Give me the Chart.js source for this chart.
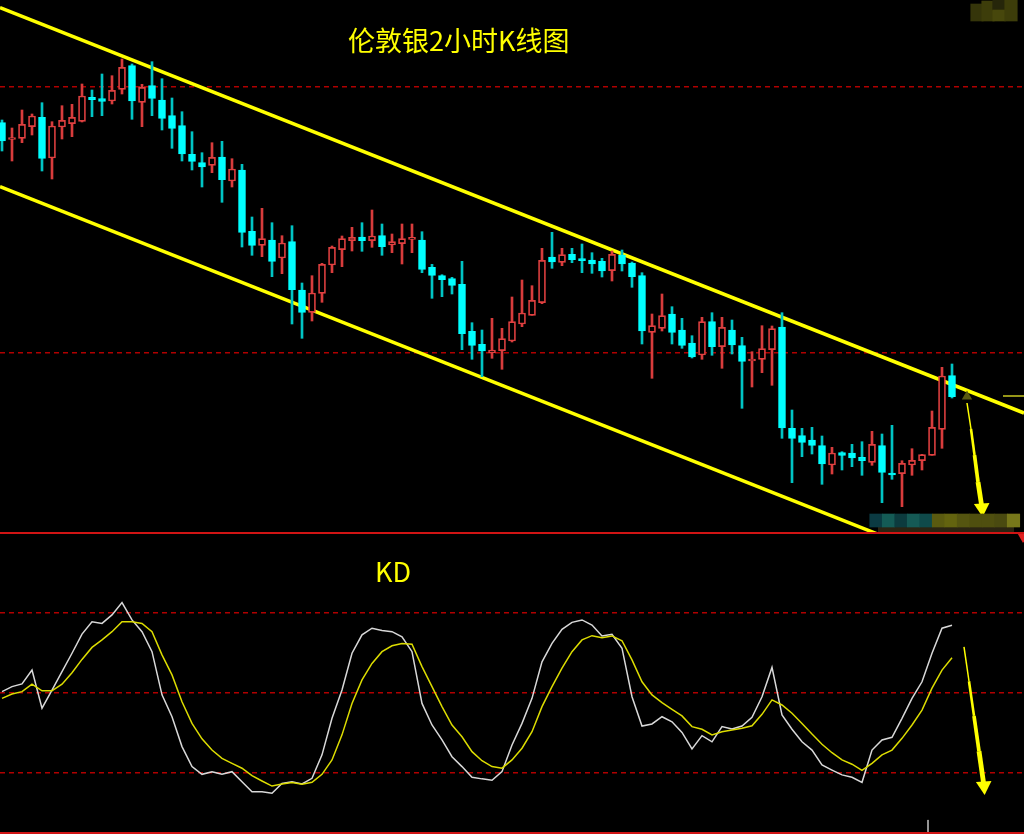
<!DOCTYPE html>
<html>
<head>
<meta charset="utf-8">
<style>
html, body { margin: 0; background: #000; overflow: hidden; }
canvas { position: absolute; left: 0; }
#priceChart { top: 0; }
#kdChart { top: 534px; }
.label { position: absolute; color: #ff0; font-family: "Noto Sans CJK SC", sans-serif; white-space: nowrap; }
#title { left: 348px; top: 21px; font-size: 27px; line-height: 38px; }
#kdLabel { left: 375px; top: 553px; font-size: 27px; line-height: 36px; }
.rule { position: absolute; left: 0; width: 1024px; background: #d01414; }
</style>
</head>
<body>
<canvas id="priceChart" width="1024" height="534"></canvas>
<canvas id="kdChart" width="1024" height="300"></canvas>
<div class="rule" style="top:532px;height:2px"></div>
<div class="rule" style="top:832px;height:2px"></div>
<div class="label" id="title">伦敦银2小时K线图</div>
<div class="label" id="kdLabel">KD</div>
<script src="https://cdn.jsdelivr.net/npm/chart.js@4"></script>
<script>
// candles, oldest first
const opens = [411.3,394.5,395.7,407.3,416.7,376,407,410.3,412.7,436.7,435.3,433,444.7,468.3,431.7,448.3,434,418.3,408.3,379.7,371.3,368.7,377,353,364,302.7,288.7,294,276,292.3,244,221.7,240.7,269,284.3,293.3,297,293.3,298.3,289,290.3,294.7,294,266.7,258.3,255.3,249.7,202.7,189.7,181.3,183.3,193,210,218.7,231.3,277,271.7,279.7,275.3,274,272.7,263.3,279,271,258.3,201.7,205.7,220,204,191,179,212.3,187.3,204,188.3,173,174.7,184.3,207,105.7,98.3,94,88.3,69,81.3,81,76.7,71.7,88.3,61,60.3,69,73.3,78.7,104.7,158.3]
const closes = [393,396.5,409.7,418,375.7,408,413.7,416.7,438,434.3,432.7,443.7,466.7,433,446.7,435.7,415.7,405.7,380,372.7,367,376.7,354.3,365,301.7,288.7,295.3,272.7,291,244.3,221.7,241,269.7,286.7,295.3,296.7,293.3,298,287.3,292.3,295.3,296.7,264.7,258.7,254.3,248.7,200.3,188.7,183,184,195.3,212.3,221,233.7,273.7,272,279.3,274.3,273.3,270,263,279.7,270,257.3,203,208.3,218.3,201.7,188.7,177,212.3,187.3,206.7,189,172.7,175,185.3,205.3,106,95.7,91.7,88.7,70,81,78.7,76,73.3,89.7,61.7,59,70.7,73.7,79.3,106.7,158,137.3]
const highs = [414,406,424,420,431.3,412.3,428.3,429.7,450,444,460,458.3,475,470,449.7,472.3,455.3,436,422.3,402.3,381.3,391.3,392.7,375.3,369.7,317,325.7,311.3,298.3,308.3,251,258.3,270.7,288,298,306.7,311.3,324,310,300,310,310,302.3,269.7,259.3,256.7,272.7,211.3,204,215.7,205.7,237,254,248.3,285.7,301.7,285.7,285.7,290,281.3,275.7,283,284,272,261.3,220,240,227.3,215.7,198.3,216.7,221.3,216.7,214,196.7,182.3,208.3,208,221.3,124,105.7,106.7,98,86.7,82.3,89.7,92.3,102.7,100,108.7,73.3,85.3,79.7,123,166.7,170]
const lows = [383,373,391.3,399,363,355,395,397.3,412,417.3,418.3,430,440,414.7,407.3,418.3,404,385.7,373,364,347,361.3,331.7,347,287,278.7,277.3,257.3,260.3,210,195.7,213,231.7,261.3,267.3,283,282.7,286.7,278.7,281.3,270,281.3,261.3,235.7,237.3,240,184.3,174.7,157.3,175.7,164.7,192,207.3,218.7,230.3,265.7,268.3,271.3,261.3,260.7,257,253,263,246.7,190,155.7,203,190,185.7,176,174.7,178.7,165.7,180,125.7,147,161.3,148.7,95.7,51.3,77.3,80,49.7,60,64,67.3,58.7,68.7,31.3,54.7,27.3,58.7,64,78.7,85.7,136]

// KD indicator
const kValues = [50.5,52.4,53.4,58.6,44.3,51.1,58,64.9,72.1,76.7,76.1,79.3,83.9,77.4,73,65.5,49.3,41.1,29.9,22.4,19.5,20.5,19.5,20.5,16.7,13,13,12.4,16.1,16.7,15.9,18,26.8,40.5,51.1,64.9,71.8,74.3,73.4,73,71.1,65.5,46.1,38,32.4,26.1,22.4,18.4,17.8,17.3,20.5,30.5,38.6,48,61.7,68.6,73.9,76.5,77.4,75.5,71.4,72,66.8,48.6,37.6,38.4,41.1,39.2,35.2,29,34,31.7,37.4,36.5,37.6,40.9,48.6,59.6,41.8,36.4,31.7,28.6,23,21.1,19.3,18.4,16.5,28.6,32.4,33.4,40.5,48,54.2,64.9,74.3,75.4]
const dValues = [48,49.6,50.5,53.3,50.8,50.8,53.3,57.6,62.6,67.1,69.9,73,76.7,76.7,76.1,73,64.3,56.8,46.7,38.6,32.8,28.6,25.5,23.6,21.8,19,17,15.1,15.9,16.4,15.8,16.5,19.5,24.9,34.3,46.1,54.9,61.1,65.5,67.7,68.6,68.3,59.9,52.4,44.9,38,33.6,28,24.6,22.4,21.8,24.9,29.3,35.5,44.9,52.4,59.3,65.5,69.9,71.5,70.7,71.4,69.6,62.4,54.2,49.3,46.4,43.9,41.4,37.4,36.4,34.3,35.5,36.1,36.8,37.7,42,47.4,45.5,42.4,38.6,34.6,30.8,27.6,24.9,23.3,21,23.6,26.8,28.6,33,38,43.6,51.8,58.6,63.2]

// channel drawn over the candles
const channelX = [-0.2, 102.2]
const channelUpper = [526.4, 121]
const channelLower = [347.3, -58]

const priceLevels = [447, 181]
const kdLevels = [80, 50, 20]

// hand drawn arrows
const priceArrowX = [96.5, 96.9, 97.25, 97.6, 98]
const priceArrowY = [131, 105, 79, 52, 26]
const kdArrowX = [96.2, 96.7, 97.2, 97.7, 98.2]
const kdArrowY = [67.3, 54.4, 41.4, 28.2, 15.1]

// blurred out bits of the screenshot
const smudgeX = [97.5,98.6,99.7,99.7,100.9,87.4,88.65,89.9,91.15,92.4,93.65,94.9,96.15,97.4,98.65,99.9,101.15]
const smudgeLow = [513,513,524,513,513,7,7,7,7,7,7,7,7,7,7,7,7]
const smudgeHigh = [530,533,534,524,534,20,20,20,20,20,20,20,20,20,20,20,20]
const smudgeColors = ['#35350a','#3d3d0a','#26260a','#47470c','#3d3d0a','#0b3a42','#145b55','#0c3b3e','#155a55','#0f4a4a','#5a5a10','#63630f','#555510','#4f4f0f','#4f4f0f','#4a4a10','#77771a']

const up = i => closes[i] >= opens[i]
const xs = opens.map((_, i) => i)
const points = (x, y) => x.map((v, i) => ({ x: v, y: y[i] }))

const baseOptions = (min, max, levels) => ({
    responsive: false,
    animation: false,
    events: [],
    layout: { padding: 0, autoPadding: false },
    plugins: { legend: { display: false }, tooltip: { enabled: false } },
    scales: {
        x: { type: 'linear', display: false, offset: false, min: -0.2, max: 102.2 },
        y: {
            min: min,
            max: max,
            beginAtZero: false,
            afterBuildTicks: axis => { axis.ticks = levels.map(v => ({ value: v })) },
            ticks: { display: false },
            grid: { color: '#b00000', lineWidth: 1.5, drawTicks: false },
            border: { display: false, dash: [5, 4] }
        }
    }
})

const thinLine = (label, data, color, width, order) => ({
    type: 'line', label, data, borderColor: color, borderWidth: width,
    pointRadius: 0, tension: 0, order
})

const arrow = (x, y) => ({
    type: 'line',
    label: 'arrow',
    data: points(x, y),
    borderColor: '#ffff00',
    backgroundColor: '#ffff00',
    borderWidth: 3,
    segment: { borderWidth: ctx => 1.5 + 1.1 * ctx.p0DataIndex },
    pointRadius: [0, 0, 0, 0, 9],
    pointStyle: 'triangle',
    pointRotation: 176,
    pointBorderWidth: 0,
    tension: 0,
    order: 0
})

new Chart(document.getElementById('priceChart'), {
    type: 'bar',
    data: {
        datasets: [
            thinLine('channel upper', points(channelX, channelUpper), '#ffff00', 3.5, 3),
            thinLine('channel lower', points(channelX, channelLower), '#ffff00', 3.5, 3),
            {
                label: 'wicks',
                data: xs.map(i => ({ x: i, y: [lows[i], highs[i]] })),
                backgroundColor: xs.map(i => up(i) ? '#d83c3c' : '#00c4c4'),
                barThickness: 2,
                grouped: false,
                order: 2
            },
            {
                label: 'bodies',
                data: xs.map(i => ({ x: i, y: [opens[i], closes[i]] })),
                backgroundColor: xs.map(i => up(i) ? '#000000' : '#00ffff'),
                borderColor: xs.map(i => up(i) ? '#e04040' : '#00ffff'),
                borderWidth: 1.7,
                borderSkipped: false,
                barThickness: 7,
                grouped: false,
                order: 1
            },
            {
                label: 'smudges',
                data: smudgeX.map((x, i) => ({ x, y: [smudgeLow[i], smudgeHigh[i]] })),
                backgroundColor: smudgeColors,
                barThickness: 12.5,
                grouped: false,
                order: 0
            },
            thinLine('smudge strip', points([87.6, 101.2], [4.5, 4.5]), '#2b2412', 5, 0),
            thinLine('level mark', points([100.1, 102.2], [138, 138]), '#c8c820', 1.5, 0),
            {
                type: 'line',
                label: 'arrow cap',
                data: points([96.5], [137.5]),
                pointStyle: 'triangle',
                pointRadius: 6,
                pointBorderWidth: 0,
                backgroundColor: '#5a5a10',
                order: 0
            },
            arrow(priceArrowX, priceArrowY)
        ]
    },
    options: baseOptions(0, 534, priceLevels)
})

new Chart(document.getElementById('kdChart'), {
    type: 'line',
    data: {
        datasets: [
            thinLine('K', points(xs, kValues), '#d8d8d8', 1.5, 2),
            thinLine('D', points(xs, dValues), '#dcdc00', 1.5, 1),
            thinLine('tick', points([92.6, 92.6], [2.4, -2.1]), '#aaaaaa', 1, 0),
            {
                type: 'line',
                label: 'corner',
                data: points([102.1], [108.9]),
                pointStyle: 'triangle',
                pointRotation: 180,
                pointRadius: 7,
                pointBorderWidth: 0,
                backgroundColor: '#e02020',
                order: 0
            },
            arrow(kdArrowX, kdArrowY)
        ]
    },
    options: baseOptions(-2.875, 109.625, kdLevels)
})
</script>
</body>
</html>
